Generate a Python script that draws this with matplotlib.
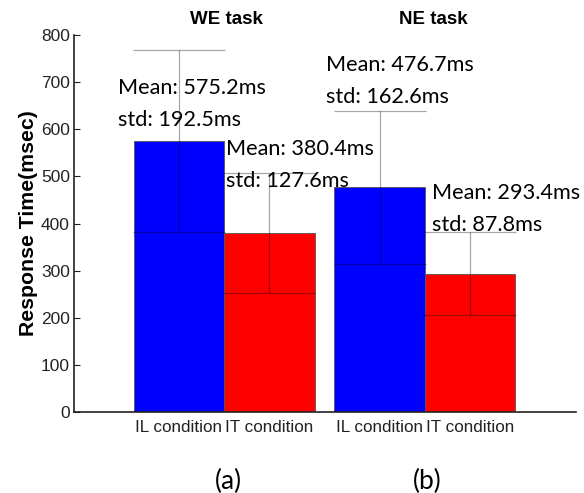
import numpy as np
import matplotlib
matplotlib.use("Agg")
import matplotlib.pyplot as plt

# data
conditions = ["IL condition", "IT condition", "IL condition", "IT condition"]
tasks = ["WE task", "NE task"]
panels = ["(a)", "(b)"]
means = [575.2, 380.4, 476.7, 293.4]
stds = [192.5, 127.6, 162.6, 87.8]
colors = ["#0000ff", "#ff0000", "#0000ff", "#ff0000"]

# layout: bar centres (bar width = 1) and where the mean/std text sits
xpos = np.array([0.0, 1.0, 2.22, 3.22])
label_xy = [(-0.67, 688), (0.52, 558), (1.63, 737), (2.80, 465)]
line_gap = 68

fig = plt.figure(figsize=(5.84, 4.93), dpi=100)
ax = fig.add_axes([74 / 584, 1 - 412 / 493, 502 / 584, 377 / 493])

ax.bar(xpos, means, width=1.0, color=colors, edgecolor="#555555",
       linewidth=0.6, zorder=2)
ax.errorbar(xpos, means, yerr=stds, fmt="none", ecolor="black", alpha=0.35,
            elinewidth=0.9, capsize=33, capthick=0.9, zorder=3)

for (lx, ly), m, s in zip(label_xy, means, stds):
    ax.text(lx, ly, f"Mean: {m:.1f}ms", fontsize=15.6, family="Lato",
            va="center", ha="left", zorder=4)
    ax.text(lx, ly - line_gap, f"std: {s:.1f}ms", fontsize=15.6, family="Lato",
            va="center", ha="left", zorder=4)

ax.set_xlim(-1.16, 4.39)
ax.set_ylim(0, 800)
ax.set_yticks(np.arange(0, 801, 100))
ax.set_xticks(xpos)
ax.set_xticklabels(conditions, family="Liberation Sans", fontsize=12.3)
ax.tick_params(axis="x", length=0, pad=6, colors="#222222")
ax.tick_params(axis="y", direction="in", length=4, labelsize=12.5, pad=3,
               colors="#222222")
for lab in ax.get_yticklabels():
    lab.set_family("Liberation Sans")

for sp in ["top", "right"]:
    ax.spines[sp].set_visible(False)
ax.spines["left"].set_linewidth(1.2)
ax.spines["bottom"].set_linewidth(1.2)
ax.spines["left"].set_color("#222222")
ax.spines["bottom"].set_color("#222222")

ax.set_ylabel("Response Time(msec)", family="Liberation Sans", fontsize=15.3,
              fontweight="bold", labelpad=2)

for tx, t in zip([0.52, 2.81], tasks):
    ax.text(tx, 1.04, t, transform=ax.get_xaxis_transform(), ha="center",
            va="center", family="Liberation Sans", fontsize=13.5,
            fontweight="bold")
for tx, p in zip([0.55, 2.74], panels):
    ax.text(tx, -0.185, p, transform=ax.get_xaxis_transform(), ha="center",
            va="center", family="Lato", fontsize=19)

fig.savefig("out.png", dpi=100)
